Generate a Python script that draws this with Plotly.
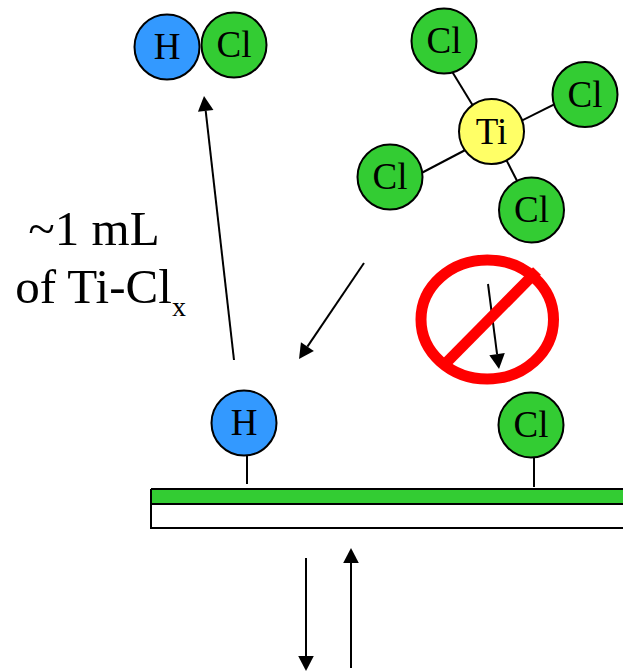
import plotly.graph_objects as go
import math

# Atoms: label, x, y, fill colour
atom_labels = ["H", "Cl", "Ti", "Cl", "Cl", "Cl", "Cl", "H", "Cl"]
atom_x = [167, 234, 491.5, 444, 585, 390, 531.5, 244, 531]
atom_y = [47, 45, 131.5, 41, 94.5, 177, 210, 423, 425]
atom_colors = ["#3399ff", "#33cc33", "#ffff66", "#33cc33", "#33cc33", "#33cc33", "#33cc33", "#3399ff", "#33cc33"]

# Bonds (x0, y0, x1, y1)
bond_x0 = [489, 492, 492, 492, 247, 534]
bond_y0 = [132, 135.5, 136, 132, 440, 440]
bond_x1 = [434, 585, 391, 532, 247, 534]
bond_y1 = [42, 89, 189, 210, 484, 487]

# Arrows: tail -> tip
arrow_x0 = [234, 364, 488, 306, 351]
arrow_y0 = [360, 263, 284, 558, 668]
arrow_x1 = [204, 299, 499, 306, 351]
arrow_y1 = [96, 359, 369, 671, 548]

# Substrate layers
layer_x = [151, 640, 640, 151, 151]
green_y = [489, 489, 504, 504, 489]
white_y = [504, 504, 528, 528, 504]

HEAD_LEN = 15
HEAD_HALF = 7.8

fig = go.Figure()

for yy, col in ((white_y, "#ffffff"), (green_y, "#33cc33")):
    fig.add_trace(go.Scatter(x=layer_x, y=yy, mode="lines", fill="toself", fillcolor=col,
                             line=dict(color="black", width=2), hoverinfo="skip"))

for x0, y0, x1, y1 in zip(bond_x0, bond_y0, bond_x1, bond_y1):
    fig.add_trace(go.Scatter(x=[x0, x1], y=[y0, y1], mode="lines",
                             line=dict(color="black", width=2), hoverinfo="skip"))

for x0, y0, x1, y1 in zip(arrow_x0, arrow_y0, arrow_x1, arrow_y1):
    d = math.hypot(x1 - x0, y1 - y0)
    ux, uy = (x1 - x0) / d, (y1 - y0) / d
    bx, by = x1 - ux * HEAD_LEN, y1 - uy * HEAD_LEN
    fig.add_trace(go.Scatter(x=[x0, bx], y=[y0, by], mode="lines",
                             line=dict(color="black", width=2), hoverinfo="skip"))
    fig.add_trace(go.Scatter(x=[x1, bx - uy * HEAD_HALF, bx + uy * HEAD_HALF, x1],
                             y=[y1, by + ux * HEAD_HALF, by - ux * HEAD_HALF, y1],
                             mode="lines", fill="toself", fillcolor="black",
                             line=dict(color="black", width=0), hoverinfo="skip"))

fig.add_trace(go.Scatter(x=atom_x, y=atom_y, mode="markers",
                         marker=dict(size=65, color=atom_colors, line=dict(color="black", width=2)),
                         hoverinfo="skip"))
fig.add_trace(go.Scatter(x=atom_x, y=[v + 3 for v in atom_y], mode="text", text=atom_labels,
                         textposition="middle center",
                         textfont=dict(family="Liberation Serif", size=37, color="black"),
                         hoverinfo="skip"))

# Captions
fig.add_trace(go.Scatter(x=[94, 93.5], y=[233, 291], mode="text", text=["~1 mL", "of Ti-Cl"],
                         textposition="middle center",
                         textfont=dict(family="Liberation Serif", size=49, color="black"), hoverinfo="skip"))
fig.add_trace(go.Scatter(x=[172], y=[309], mode="text", text=["x"], textposition="middle right",
                         textfont=dict(family="Liberation Serif", size=28, color="black"), hoverinfo="skip"))

# Prohibition sign
fig.add_shape(type="circle", x0=421, x1=553.5, y0=260, y1=379, line=dict(color="#ff0000", width=11), fillcolor="rgba(0,0,0,0)")
fig.add_shape(type="line", x0=447, y0=362, x1=537, y1=271, line=dict(color="#ff0000", width=11))

fig.update_layout(
    width=623, height=671, margin=dict(l=0, r=0, t=0, b=0), showlegend=False,
    paper_bgcolor="white", plot_bgcolor="white",
    xaxis=dict(range=[0, 623], visible=False, fixedrange=True),
    yaxis=dict(range=[671, 0], visible=False, fixedrange=True),
)
fig.write_html("out.html", config={"displayModeBar": False},
               post_script="document.body.style.margin='0';")
